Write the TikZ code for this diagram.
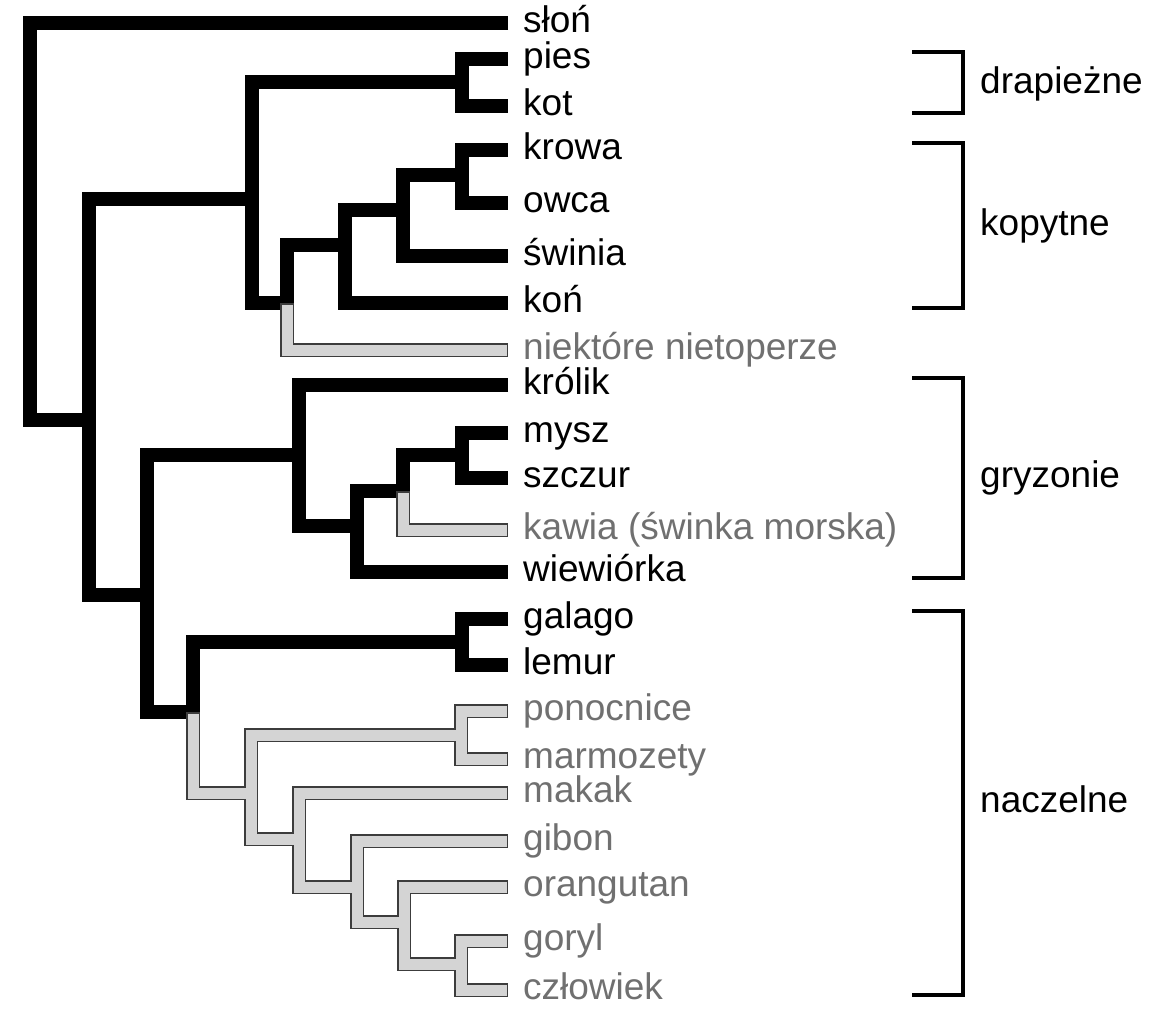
\documentclass[tikz,border=0pt]{standalone}
\usepackage{fontspec}
\setmainfont{Liberation Sans}

\definecolor{linegray}{RGB}{60,60,60}
\definecolor{boxgray}{RGB}{212,212,212}
\definecolor{textgray}{RGB}{112,112,112}

\begin{document}
\begin{tikzpicture}[x=1pt, y=-1pt,
    branch/.style={line width=14pt},
    lostbranch/.style={draw=linegray, line width=1.5pt, double=boxgray, double distance=11pt, line cap=rect},
    taxon/.style={anchor=west, inner xsep=15pt, inner ysep=0pt, text height=26pt, text depth=6.8pt, font=\fontsize{37pt}{44pt}\selectfont},
    lost/.style={taxon, text=textgray},
    group/.style={taxon, inner xsep=0pt},
    bracket/.style={line width=4pt}]
        \useasboundingbox (0,0) rectangle (1175,1025);

        % leaves
        \node[taxon] (slon) at (508,23) {słoń};
        \node[taxon] (pies) at (508,59) {pies};
        \node[taxon] (kot) at (508,106) {kot};
        \node[taxon] (krowa) at (508,150) {krowa};
        \node[taxon] (owca) at (508,203) {owca};
        \node[taxon] (swinia) at (508,256) {świnia};
        \node[taxon] (kon) at (508,303) {koń};
        \node[lost] (niet) at (508,350) {niektóre nietoperze};
        \node[taxon] (krolik) at (508,385) {królik};
        \node[taxon] (mysz) at (508,433) {mysz};
        \node[taxon] (szczur) at (508,478) {szczur};
        \node[lost] (kawia) at (508,530) {kawia (świnka morska)};
        \node[taxon] (wiew) at (508,572) {wiewiórka};
        \node[taxon] (galago) at (508,619) {galago};
        \node[taxon] (lemur) at (508,665) {lemur};
        \node[lost] (ponoc) at (508,711) {ponocnice};
        \node[lost] (marmo) at (508,759) {marmozety};
        \node[lost] (makak) at (508,793) {makak};
        \node[lost] (gibon) at (508,841) {gibon};
        \node[lost] (orang) at (508,887) {orangutan};
        \node[lost] (goryl) at (508,941) {goryl};
        \node[lost] (czlow) at (508,990) {człowiek};

        % inner nodes
        \coordinate (root) at (30,420);
        \coordinate (boreo) at (89,420);
        \coordinate (laura) at (252,199);
        \coordinate (carn) at (462,82);
        \coordinate (pegaso) at (287,303);
        \coordinate (ungul) at (345,245);
        \coordinate (artio) at (403,210);
        \coordinate (rumin) at (462,175);
        \coordinate (euarch) at (147,595);
        \coordinate (glires) at (299,455);
        \coordinate (rodent) at (357,526);
        \coordinate (rodcore) at (403,491);
        \coordinate (murid) at (462,455);
        \coordinate (primates) at (193,712);
        \coordinate (strep) at (462,642);
        \coordinate (anthro) at (251,793);
        \coordinate (platy) at (461,735);
        \coordinate (catar) at (299,839);
        \coordinate (apes) at (357,887);
        \coordinate (great) at (404,922);
        \coordinate (homin) at (461,964);

        % black tree
        \draw[branch] (slon.west) -| (root) -- (boreo);
        \draw[branch] (laura) -| (boreo) |- (euarch);
        \draw[branch] (carn) -| (laura) |- (pegaso);
        \draw[branch] (pies.west) -| (carn) |- (kot.west);
        \draw[branch] (ungul) -| (pegaso);
        \draw[branch] (artio) -| (ungul) |- (kon.west);
        \draw[branch] (rumin) -| (artio) |- (swinia.west);
        \draw[branch] (krowa.west) -| (rumin) |- (owca.west);
        \draw[branch] (glires) -| (euarch) |- (primates);
        \draw[branch] (krolik.west) -| (glires) |- (rodent);
        \draw[branch] (rodcore) -| (rodent) |- (wiew.west);
        \draw[branch] (murid) -| (rodcore);
        \draw[branch] (mysz.west) -| (murid) |- (szczur.west);
        \draw[branch] (strep) -| (primates);
        \draw[branch] (galago.west) -| (strep) |- (lemur.west);

        % grey tree, one path so the outlines merge
        \draw[lostbranch]
            ([yshift=-7pt]pegaso) |- ([xshift=-7pt]niet.west)
            ([yshift=-7pt]rodcore) |- ([xshift=-7pt]kawia.west)
            ([yshift=-7pt]primates) |- (anthro)
            (platy) -| (anthro) |- (catar)
            ([xshift=-7pt]ponoc.west) -| (platy) |- ([xshift=-7pt]marmo.west)
            ([xshift=-7pt]makak.west) -| (catar) |- (apes)
            ([xshift=-7pt]gibon.west) -| (apes) |- (great)
            ([xshift=-7pt]orang.west) -| (great) |- (homin)
            ([xshift=-7pt]goryl.west) -| (homin) |- ([xshift=-7pt]czlow.west);

        % groups
        \draw[bracket] (912,52) -| (963,113) -- (912,113);
        \node[group] (drap) at (980,84) {drapieżne};
        \draw[bracket] (912,143) -| (963,308) -- (912,308);
        \node[group] (kopyt) at (980,226) {kopytne};
        \draw[bracket] (912,378) -| (963,578) -- (912,578);
        \node[group] (gryz) at (980,478) {gryzonie};
        \draw[bracket] (912,611) -| (963,995) -- (912,995);
        \node[group] (nacz) at (980,803) {naczelne};
\end{tikzpicture}
\end{document}
